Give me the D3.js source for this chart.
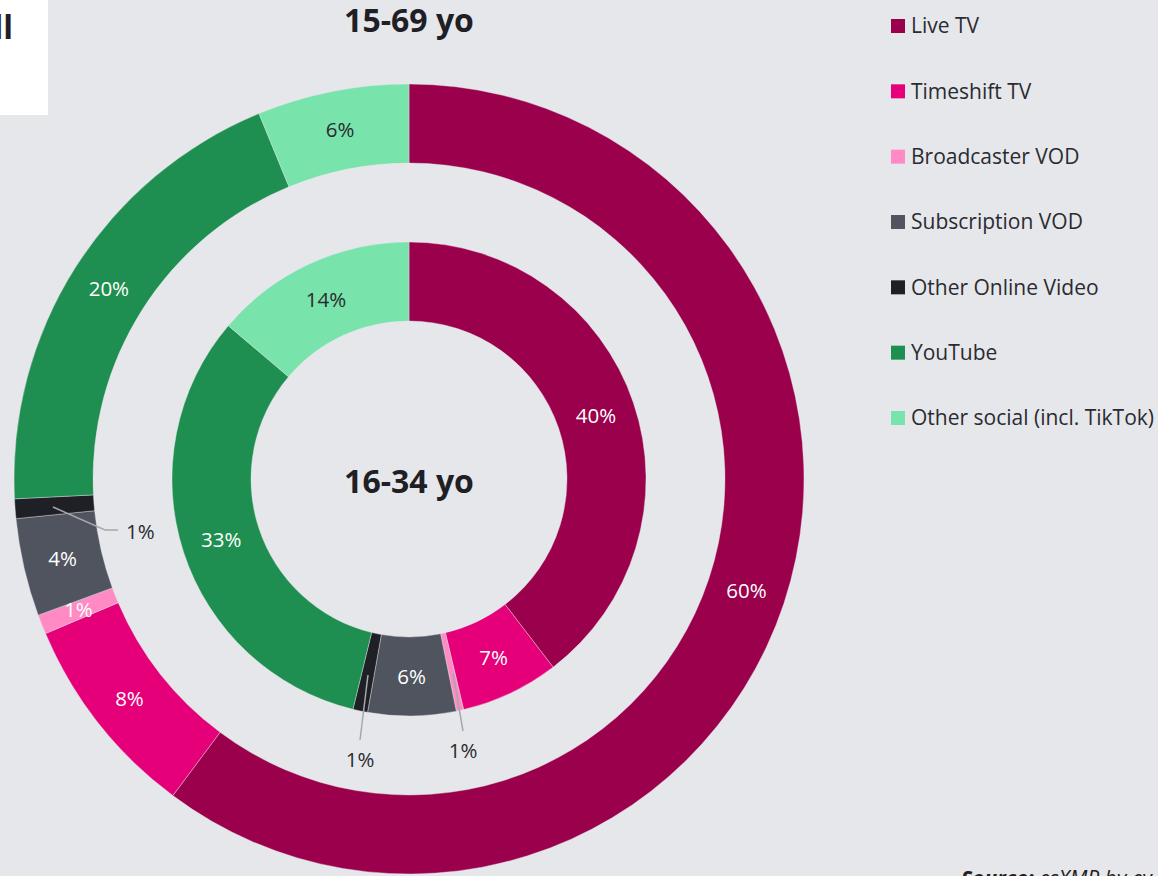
<!DOCTYPE html>
<html>
<head>
<meta charset="utf-8">
<script src="https://cdn.jsdelivr.net/npm/d3@7"></script>
<style>
  html, body { margin: 0; padding: 0; background: #e6e7eb; }
  svg { display: block; font-family: "Open Sans", "Noto Sans", sans-serif; }
</style>
</head>
<body>
<div id="chart"></div>
<script>
// categories + colours
const categories = ["Live TV", "Timeshift TV", "Broadcaster VOD", "Subscription VOD",
  "Other Online Video", "YouTube", "Other social (incl. TikTok)"];
const colors = ["#9a004b", "#e5007a", "#ff8ac4", "#50545f", "#1f2025", "#1e8f50", "#78e3aa"];

// share of video time, outer ring = 15-69 yo, inner ring = 16-34 yo
const outerValues = [60.2, 8.4, 0.8, 4.0, 0.8, 19.6, 6.2];
const outerLabels = ["60%", "8%", "1%", "4%", "1%", "20%", "6%"];
const innerValues = [39.6, 6.7, 0.5, 6.0, 1.0, 32.4, 13.8];
const innerLabels = ["40%", "7%", "1%", "6%", "1%", "33%", "14%"];

const width = 1158, height = 876;
const cx = 409, cy = 479;

const svg = d3.select("#chart").append("svg")
  .attr("width", width)
  .attr("height", height);

// white box top-left (remains of a title panel)
svg.append("rect").attr("x", 0).attr("y", 0).attr("width", 48).attr("height", 115).attr("fill", "#fff");
svg.append("text").attr("x", 13).attr("y", 39).attr("text-anchor", "end")
  .attr("font-size", 32).attr("font-weight", "bold").attr("fill", "#1f2025").text("All");

const pie = d3.pie().sort(null).value(d => d.value);

function ring(values, labels, r0, r1, leaders) {
  const data = values.map((v, i) => ({ value: v, label: labels[i], color: colors[i], i }));
  const arcs = pie(data);
  const arc = d3.arc().innerRadius(r0).outerRadius(r1);
  const labelArc = d3.arc().innerRadius((r0 + r1) / 2).outerRadius((r0 + r1) / 2);
  const g = svg.append("g").attr("transform", `translate(${cx},${cy})`);

  g.selectAll("path")
    .data(arcs)
    .enter().append("path")
    .attr("d", arc)
    .attr("fill", d => d.data.color)
    .attr("stroke", "#e6e7eb")
    .attr("stroke-width", 0.4);

  g.selectAll("text.lbl")
    .data(arcs.filter(d => !leaders[d.data.i]))
    .enter().append("text")
    .attr("class", "lbl")
    .attr("transform", d => `translate(${labelArc.centroid(d)})`)
    .attr("text-anchor", "middle")
    .attr("dy", "0.35em")
    .attr("font-size", 20.5)
    .attr("fill", d => d.data.i === 6 ? "#2a2b30" : "#fff")
    .text(d => d.data.label);

  // small slices get a leader line and an outside label
  arcs.filter(d => leaders[d.data.i]).forEach(d => {
    const L = leaders[d.data.i];
    g.append("polyline")
      .attr("points", L.points.map(p => [p[0] - cx, p[1] - cy].join(",")).join(" "))
      .attr("fill", "none")
      .attr("stroke", "#a6a8ad")
      .attr("stroke-width", 1.5);
    g.append("text")
      .attr("x", L.text[0] - cx).attr("y", L.text[1] - cy)
      .attr("text-anchor", L.anchor || "middle")
      .attr("dy", "0.35em")
      .attr("font-size", 20.5)
      .attr("fill", "#2a2b30")
      .text(d.data.label);
  });
}

ring(outerValues, outerLabels, 316, 395, {
  4: { points: [[53, 507], [105, 530], [118, 530]], text: [126, 532], anchor: "start" }
});
ring(innerValues, innerLabels, 158, 237, {
  2: { points: [[453, 673], [463, 731]], text: [463, 751] },
  4: { points: [[368, 675], [360, 740]], text: [360, 760] }
});

// ring titles
svg.append("text").attr("x", cx).attr("y", 32).attr("text-anchor", "middle")
  .attr("font-size", 32).attr("font-weight", "bold").attr("fill", "#1f2025").text("15-69 yo");
svg.append("text").attr("x", cx).attr("y", 493).attr("text-anchor", "middle")
  .attr("font-size", 32).attr("font-weight", "bold").attr("fill", "#1f2025").text("16-34 yo");

// legend
const legend = svg.append("g").attr("transform", "translate(891,0)");
const ly = d3.scalePoint().domain(categories).range([26, 418]);
const item = legend.selectAll("g")
  .data(categories)
  .enter().append("g")
  .attr("transform", d => `translate(0,${ly(d)})`);
item.append("rect")
  .attr("x", 0).attr("y", -7).attr("width", 14).attr("height", 14)
  .attr("fill", (d, i) => colors[i]);
item.append("text")
  .attr("x", 20).attr("dy", "0.35em")
  .attr("font-size", 21)
  .attr("fill", "#2a2b30")
  .text(d => d);

// source note (cut off at the page edge)
const src = svg.append("text").attr("x", 961).attr("y", 886)
  .attr("font-size", 21).attr("font-style", "italic").attr("fill", "#1f2025");
src.append("tspan").attr("font-weight", "bold").text("Source:");
src.append("tspan").text(" esXMP by ev");
</script>
</body>
</html>
